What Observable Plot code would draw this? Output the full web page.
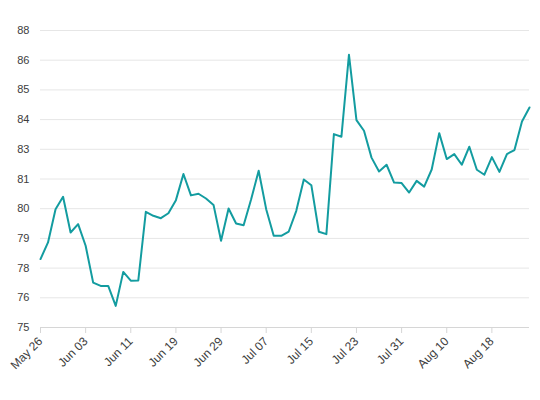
<!DOCTYPE html>
<html><head><meta charset="utf-8">
<script src="https://cdn.jsdelivr.net/npm/d3@7"></script>
<script src="https://cdn.jsdelivr.net/npm/@observablehq/plot@0.6"></script>
<style>body{margin:0;background:#fff}</style>
</head><body><div id="chart"></div>
<script>
const values = [77.88,78.58,79.98,80.50,79.00,79.35,78.44,76.89,76.75,76.75,
  75.91,77.34,76.97,76.98,79.87,79.70,79.60,79.81,80.36,81.46,
  80.56,80.63,80.43,80.16,78.65,80.01,79.38,79.30,80.40,81.60,
  79.98,78.86,78.86,79.04,79.91,81.23,80.99,79.03,78.93,83.14,
  83.03,86.48,83.73,83.28,82.15,81.57,81.85,81.10,81.08,80.68,
  81.17,80.93,81.65,83.18,82.09,82.30,81.85,82.61,81.64,81.43,
  82.17,81.55,82.30,82.47,83.67,84.26];
const tickLabels = ["May 26","Jun 03","Jun 11","Jun 19","Jun 29","Jul 07","Jul 15","Jul 23","Jul 31","Aug 10","Aug 18"];
const tickIndex = [0,6,12,18,24,30,36,42,48,54,60];
const yTicks = [75,76.25,77.5,78.75,80,81.25,82.5,83.75,85,86.25,87.5];
const data = values.map((v,i)=>({i, v}));
const chart = Plot.plot({
  width:540, height:400, marginLeft:40, marginRight:11, marginTop:30, marginBottom:73,
  style:{fontFamily:"'Liberation Sans', Arial, sans-serif", fontSize:"11px", color:"#3d3d3d", background:"#fff"},
  x:{domain:[0,65]},
  y:{domain:[75,87.5]},
  marks:[
    Plot.gridY(yTicks,{stroke:"#e6e6e6", strokeOpacity:1}),
    Plot.ruleY([75],{stroke:"#d6d6d6"}),
    Plot.axisY(yTicks,{tickSize:0, tickPadding:11, tickFormat:d=>String(Math.round(d)), label:null}),
    Plot.axisX(tickIndex,{tickSize:6, stroke:"#d6d6d6", tickRotate:-45, fontSize:12, tickFormat:d=>tickLabels[tickIndex.indexOf(d)], label:null}),
    Plot.line(data,{x:"i",y:"v",stroke:"#139ca0",strokeWidth:2})
  ]
});
document.getElementById("chart").appendChild(chart);
</script></body></html>
